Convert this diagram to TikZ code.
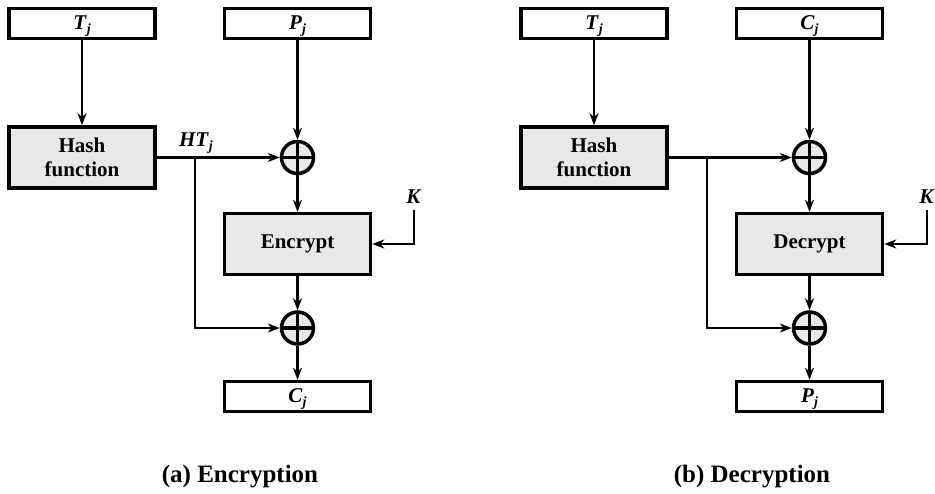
\documentclass[tikz,border=0pt]{standalone}
\usepackage{fontspec}
\setmainfont{Liberation Serif}
\usetikzlibrary{arrows.meta,calc}
\newcommand{\lbl}[2]{\textbf{\textit{#1}\raisebox{-0.2em}{\fontsize{14}{14}\selectfont\textbf{\textit{#2}}}}}
\begin{document}
\begin{tikzpicture}[x=1pt,y=-1pt,
 box/.style={draw, line width=3.5pt, minimum width=146pt, minimum height=30pt, inner sep=0pt, fill=white, font=\fontsize{21}{24}\selectfont\bfseries},
 varbox/.style={box, text height=15pt, text depth=4pt},
 proc/.style={box, fill=gray!18, minimum height=61pt, align=center},
 xor/.style={circle, draw, line width=3.5pt, fill=gray!18, minimum size=32pt, inner sep=0pt,
   path picture={\draw[line width=3.5pt] (path picture bounding box.north) -- (path picture bounding box.south) (path picture bounding box.west) -- (path picture bounding box.east);}},
 conn/.style={line width=2.4pt, -{Stealth[length=12pt,width=9pt]}},
 lab/.style={font=\fontsize{21}{24}\selectfont, inner sep=0pt},
 captext/.style={font=\fontsize{25}{28}\selectfont\bfseries, inner sep=0pt}
]
\useasboundingbox (0,0) rectangle (935,493);

% ---------- (a) Encryption ----------
\node[varbox] (T1) at (82,23.5) {\lbl{T}{j}};
\node[varbox] (P1) at (297.5,23.5) {\lbl{P}{j}};
\node[proc] (H1) at (82,157.5) {Hash\\function};
\node[xor]  (X1) at (297.5,157.5) {};
\node[proc] (E1) at (297.5,244) {Encrypt};
\node[xor]  (X2) at (297.5,328) {};
\node[varbox] (C1) at (297.5,396.5) {\lbl{C}{j}};
\node[lab]  (K1) at (414,197) {\textbf{\textit{K}}};
\node[lab]  (HT) at (196,143) {\lbl{HT}{j}};
\coordinate (b1) at (195,157.5);

\draw[conn] (T1) -- (H1);
\draw[conn] (P1) -- (X1);
\draw[conn] (H1) -- (X1);
\draw[conn] (b1) |- (X2);
\draw[conn] (X1) -- (E1);
\draw[conn] (E1) -- (X2);
\draw[conn] (X2) -- (C1);
\draw[conn] ($(K1.south)+(0,6)$) |- (E1);

\node[captext] (capA) at (240,477) {(a) Encryption};

% ---------- (b) Decryption ----------
\node[varbox] (T2) at (594,23.5) {\lbl{T}{j}};
\node[varbox] (C2) at (809.5,23.5) {\lbl{C}{j}};
\node[proc] (H2) at (594,157.5) {Hash\\function};
\node[xor]  (X3) at (809.5,157.5) {};
\node[proc] (D2) at (809.5,244) {Decrypt};
\node[xor]  (X4) at (809.5,328) {};
\node[varbox] (P2) at (809.5,396.5) {\lbl{P}{j}};
\node[lab]  (K2) at (927,197) {\textbf{\textit{K}}};
\coordinate (b2) at (707,157.5);

\draw[conn] (T2) -- (H2);
\draw[conn] (C2) -- (X3);
\draw[conn] (H2) -- (X3);
\draw[conn] (b2) |- (X4);
\draw[conn] (X3) -- (D2);
\draw[conn] (D2) -- (X4);
\draw[conn] (X4) -- (P2);
\draw[conn] ($(K2.south)+(0,6)$) |- (D2);

\node[captext] (capB) at (752,477) {(b) Decryption};
\end{tikzpicture}
\end{document}
